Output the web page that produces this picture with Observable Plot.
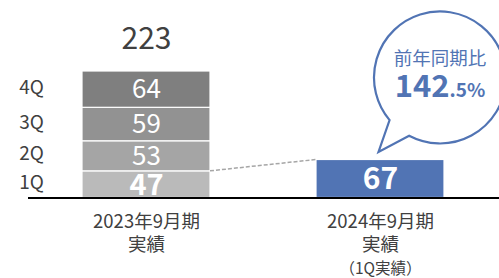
<!DOCTYPE html>
<html><head><meta charset="utf-8">
<script src="https://cdn.jsdelivr.net/npm/d3@7"></script>
<script src="https://cdn.jsdelivr.net/npm/@observablehq/plot@0.6"></script>
<style>body{margin:0;background:#fff} svg{display:block}</style>
</head><body><div id="chart"></div>
<script>
const categories = ["2023年9月期", "2024年9月期"];
const categoryLine2 = ["実績", "実績"];
const categoryLine3 = ["", "（1Q実績）"];
const quarters = ["1Q", "2Q", "3Q", "4Q"];
const fy2023Values = [47, 53, 59, 64];
const fy2024Values = [67];
const fy2024Keys = ["2024-1Q"];
const total2023 = 223;
const yoyLabel = "前年同期比";
const yoyMain = "142";
const yoyDecimal = ".5%";
const colorKeys = ["1Q", "2Q", "3Q", "4Q", "2024-1Q"];
const colorRange = ["#bababa", "#a5a5a5", "#929292", "#7f7f7f", "#5174b4"];

const cum2023 = d3.cumsum(fy2023Values);
const rows2023 = fy2023Values.map((v, i) => ({cat: categories[0], key: quarters[i], q: quarters[i], value: v, mid: cum2023[i] - v / 2}));
const cum2024 = d3.cumsum(fy2024Values);
const rows2024 = fy2024Values.map((v, i) => ({cat: categories[1], key: fy2024Keys[i], value: v, mid: cum2024[i] - v / 2}));
const rows = rows2023.concat(rows2024);
const labelRows = categories.map((c, i) => ({cat: c, l1: c, l2: categoryLine2[i], l3: categoryLine3[i]}));

const font = "'Noto Sans CJK JP', 'Noto Sans', sans-serif";
const textColor = "#404040";
const blue = colorRange[4];

const chart = Plot.plot({
  width: 499, height: 278,
  marginLeft: 28, marginRight: 0, marginTop: 0, marginBottom: 0,
  style: {fontFamily: font, background: "white"},
  x: {domain: categories, range: [81, 445], paddingInner: 0.451, paddingOuter: 0, axis: null},
  y: {domain: [0, total2023], range: [197.5, 71], axis: null},
  color: {domain: colorKeys, range: colorRange},
  marks: [
    Plot.barY(rows, {x: "cat", y: "value", fill: "key", stroke: "white", strokeWidth: 1.2}),
    Plot.ruleY([0], {stroke: "#000", strokeWidth: 2.2}),
    Plot.text(rows2023.filter(d => d.q !== "1Q"), {x: "cat", y: "mid", text: d => String(d.value), fill: "white", fontSize: 26}),
    Plot.text(rows2023.filter(d => d.q === "1Q"), {x: "cat", y: "mid", text: d => String(d.value), fill: "white", fontSize: 29, fontWeight: "bold", dy: 1.5}),
    Plot.text(rows2024, {x: "cat", y: "mid", text: d => String(d.value), fill: "white", fontSize: 30, fontWeight: "bold"}),
    Plot.text(rows2023, {x: "cat", y: "mid", text: "q", dx: -115, dy: -2, fill: textColor, fontSize: 19}),
    Plot.text([total2023], {x: () => categories[0], y: d => d, text: d => String(d), dy: -32, fill: textColor, fontSize: 30}),
    Plot.text(labelRows, {x: "cat", y: () => 0, text: "l1", dy: 24.5, fill: textColor, fontSize: 18.5}),
    Plot.text(labelRows, {x: "cat", y: () => 0, text: "l2", dy: 47.5, fill: textColor, fontSize: 18.5}),
    Plot.text(labelRows, {x: "cat", y: () => 0, text: "l3", dy: 71, fill: textColor, fontSize: 15.5})
  ]
});
document.getElementById("chart").appendChild(chart);

// Annotations positioned from the chart's scales
const xs = chart.scale("x"), ys = chart.scale("y");
const bw = xs.bandwidth;
const svg = d3.select(chart);
const g = svg.append("g");
// dashed connector: top-right of 2023 1Q to top-left of 2024 bar
g.append("line")
  .attr("x1", xs.apply(categories[0]) + bw).attr("y1", ys.apply(fy2023Values[0]))
  .attr("x2", xs.apply(categories[1])).attr("y2", ys.apply(fy2024Values[0]))
  .attr("stroke", "#a6a6a6").attr("stroke-width", 1.5).attr("stroke-dasharray", "4,2");

// speech bubble
const bx = xs.apply(categories[1]) + bw / 2, by = ys.apply(fy2024Values[0]);
const cx = bx + 60, cy = by - 82, r = 66;
const a1 = 139.8 * Math.PI / 180, a2 = 117.9 * Math.PI / 180;
const p1 = [cx + r * Math.cos(a1), cy + r * Math.sin(a1)];
const p2 = [cx + r * Math.cos(a2), cy + r * Math.sin(a2)];
const tip = [bx - 1.5, by - 7.5];
g.append("path")
  .attr("d", `M${p2[0]},${p2[1]} A${r},${r} 0 1 0 ${p1[0]},${p1[1]} L${tip[0]},${tip[1]} Z`)
  .attr("fill", "white").attr("stroke", blue).attr("stroke-width", 2.2).attr("stroke-linejoin", "miter");
g.append("text").attr("x", cx).attr("y", cy - 19).attr("dy", "0.35em")
  .attr("text-anchor", "middle").attr("fill", blue).attr("font-size", 18.5).attr("font-family", font)
  .text(yoyLabel);
const t = g.append("text").attr("x", cx).attr("y", cy + 20)
  .attr("text-anchor", "middle").attr("fill", blue).attr("font-family", font).attr("font-weight", "bold");
t.append("tspan").attr("font-size", 31).text(yoyMain);
t.append("tspan").attr("font-size", 19).text(yoyDecimal);
</script>
</body></html>
